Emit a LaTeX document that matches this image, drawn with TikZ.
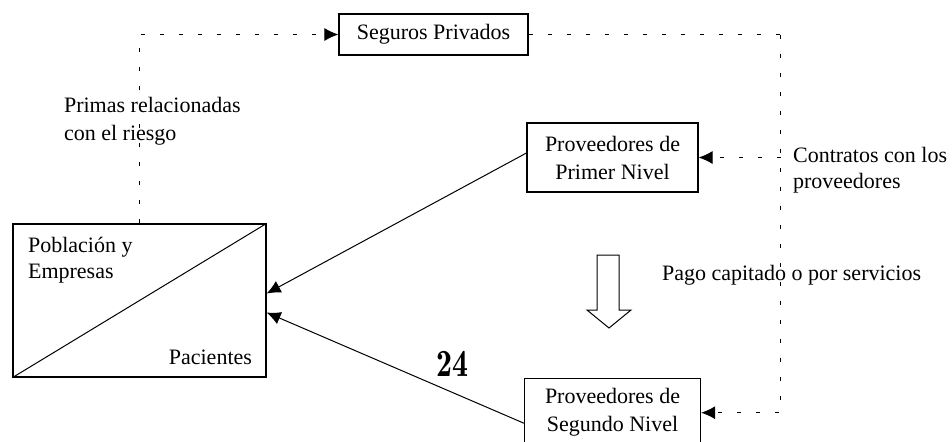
\documentclass[tikz,border=0pt]{standalone}
\usepackage{fontspec}
\setmainfont{Liberation Serif}
\usepackage{tikz}
\usetikzlibrary{positioning,arrows.meta}

\begin{document}
\begin{tikzpicture}[x=0.5pt, y=-0.5pt,
		txt/.style     = {font = \fontsize{11}{14}\selectfont},
		box/.style     = {draw,
			rectangle,
			txt,
			align          = center,
			inner sep      = 0pt,
			line width     = 0.6pt},
		dotline/.style = {line width = 0.5pt,
			dash pattern   = on 2pt off 7.5pt},
		tip/.style     = {-{Latex[length=7pt,width=6.5pt]}},
		flow/.style    = {line width = 0.5pt, tip}]

		\useasboundingbox (0,0) rectangle (952,441);
		\clip (0,0) rectangle (952,441);

		\node[box, minimum width=126.5pt, minimum height=76.5pt] (pob) at (139.5,300.5) {};
		\draw[line width=0.5pt] (pob.south west) -- (pob.north east);
		\node[txt, anchor=west, align=left, font=\fontsize{11}{13}\selectfont] (pobA) at (21,260)
		{Población y\\Empresas};
		\node[txt, anchor=east] (pobB) at (259,357) {Pacientes};

		\node[box, minimum width=94.5pt, minimum height=20.5pt] (seg) at (433.5,34.5)
		{Seguros Privados};

		\node[box, minimum width=85.5pt, minimum height=34.5pt] (prim) at (612.5,157.5)
		{Proveedores de\\Primer Nivel};

		\node[box, minimum width=88pt, minimum height=34.5pt, below=92.5pt of prim] (seg2)
		{Proveedores de\\Segundo Nivel};

		\coordinate[right=126pt of seg.east] (k); % corner of the payment line

		% premiums and contracts
		\draw[dotline, tip] (pob.north) |- (seg.west);
		\draw[dotline] (seg.east) -- (k);
		\draw[dotline, tip] (k) |- (seg2.east);
		\draw[dotline, tip] (prim.east -| k) -- (prim.east);

		% care to the patients
		\draw[flow] ([yshift=2.25pt]prim.west) -- ([yshift=3.5pt]pob.east);
		\draw[flow] ([yshift=-5.25pt]seg2.west) -- ([yshift=-6pt]pob.east);

		% hollow arrow
		\draw[line width=0.5pt, fill=white] (597,255) -- (619,255) -- (619,310) -- (631,310)
		-- (609,328) -- (587,310) -- (597,310) -- cycle;

		\node[txt, anchor=west, align=left] (primas) at (57,121)
		{Primas relacionadas\\con el riesgo};
		\node[txt, anchor=west, align=left, font=\fontsize{11}{13}\selectfont] (contr) at (786,170)
		{Contratos con los\\proveedores};
		\node[txt, anchor=west] (pago) at (655,275) {Pago capitado o por servicios};
		\node[font=\fontfamily{lmr}\bfseries\fontsize{16}{18}\selectfont] (num) at (452,364)
		{\scalebox{1}[1.2]{24}};

	\end{tikzpicture}
\end{document}
